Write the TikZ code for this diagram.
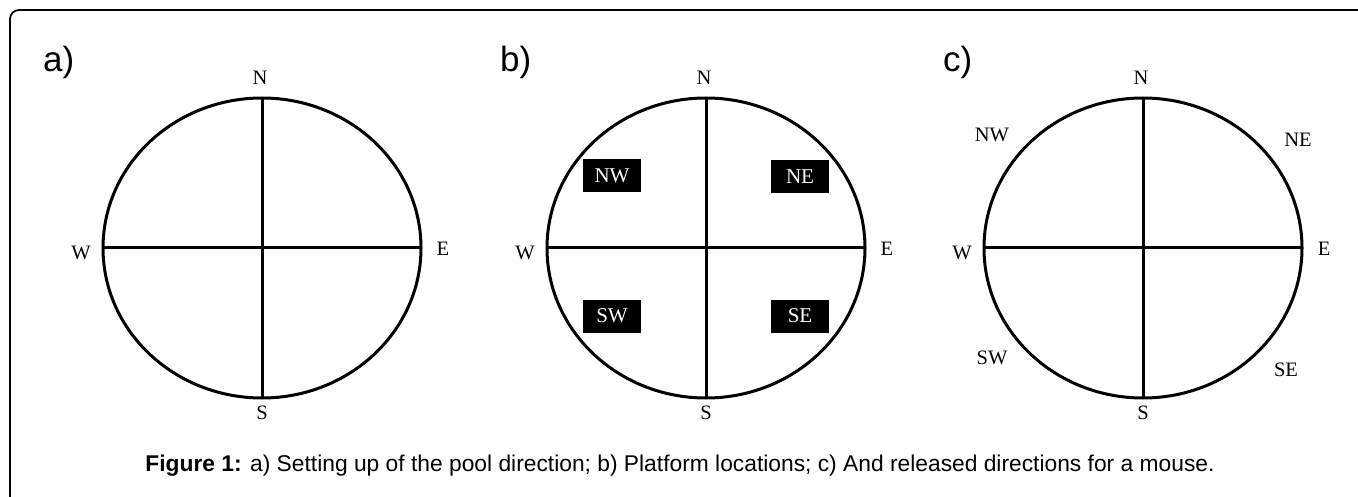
\documentclass[tikz,border=0pt]{standalone}
\usepackage{fontspec}
\setmainfont{Liberation Serif}
\newfontfamily\arialfont{Liberation Sans}
\usetikzlibrary{positioning}

\tikzset{
  pool/.style={line width=3pt},
  dirlabel/.style={font=\fontsize{20.5}{24}\selectfont, inner sep=0pt},
  platform/.style={fill=black, text=white, minimum width=58pt, minimum height=33pt,
    inner sep=0pt, font=\fontsize{21}{24}\selectfont},
  panellabel/.style={font=\arialfont\fontsize{35}{40}\selectfont, inner sep=0pt, anchor=base west},
}

\begin{document}
\begin{tikzpicture}[x=1pt,y=-1pt]
    \useasboundingbox (0,0) rectangle (1358,497);
    \draw[line width=1.8pt, rounded corners=9pt] (10,505) -- (10,10) -- (1365,10); % cadre
    \def \rx{159};
    \def \ry{150};
    \def \cy{248};
    % les trois bassins
    \foreach \p/\cx/\lx/\ptext in {a/262/43/a), b/706/500/b), c/1143/943/c)} {
        \coordinate (\p C) at (\cx,\cy);
        \coordinate (\p N) at (\cx,\cy-\ry);
        \coordinate (\p S) at (\cx,\cy+\ry);
        \coordinate (\p W) at (\cx-\rx,\cy);
        \coordinate (\p E) at (\cx+\rx,\cy);
        \draw[pool] (\p C) ellipse [x radius=\rx, y radius=\ry];
        \draw[pool] (\p N) -- (\p S);
        \draw[pool] (\p W) -- (\p E);
        \node[dirlabel] (\p n) at (\cx-2,78) {N};
        \node[dirlabel] (\p s) at (\cx,413) {S};
        \node[dirlabel] (\p w) at (\cx-181,253) {W};
        \node[dirlabel] (\p e) at (\cx+181,249) {E};
        \node[panellabel] (\p lab) at (\lx,72) {\ptext};
    }
    % plateformes
    \foreach \q/\x/\y in {NW/612/176, NE/800/177, SW/612/316, SE/800/316}
        \node[platform] (b\q) at (\x,\y) {\q};
    % points de lacher
    \foreach \q/\x/\y in {NW/992/135, NE/1298/140, SW/992/358, SE/1286/370}
        \node[dirlabel] (c\q) at (\x,\y) {\q};
    \node[font=\arialfont\fontsize{22.8}{26}\selectfont, inner sep=0pt] (caption) at (680,466)
        {\textbf{Figure 1:} a) Setting up of the pool direction; b) Platform locations; c) And released directions for a mouse.};
\end{tikzpicture}
\end{document}
